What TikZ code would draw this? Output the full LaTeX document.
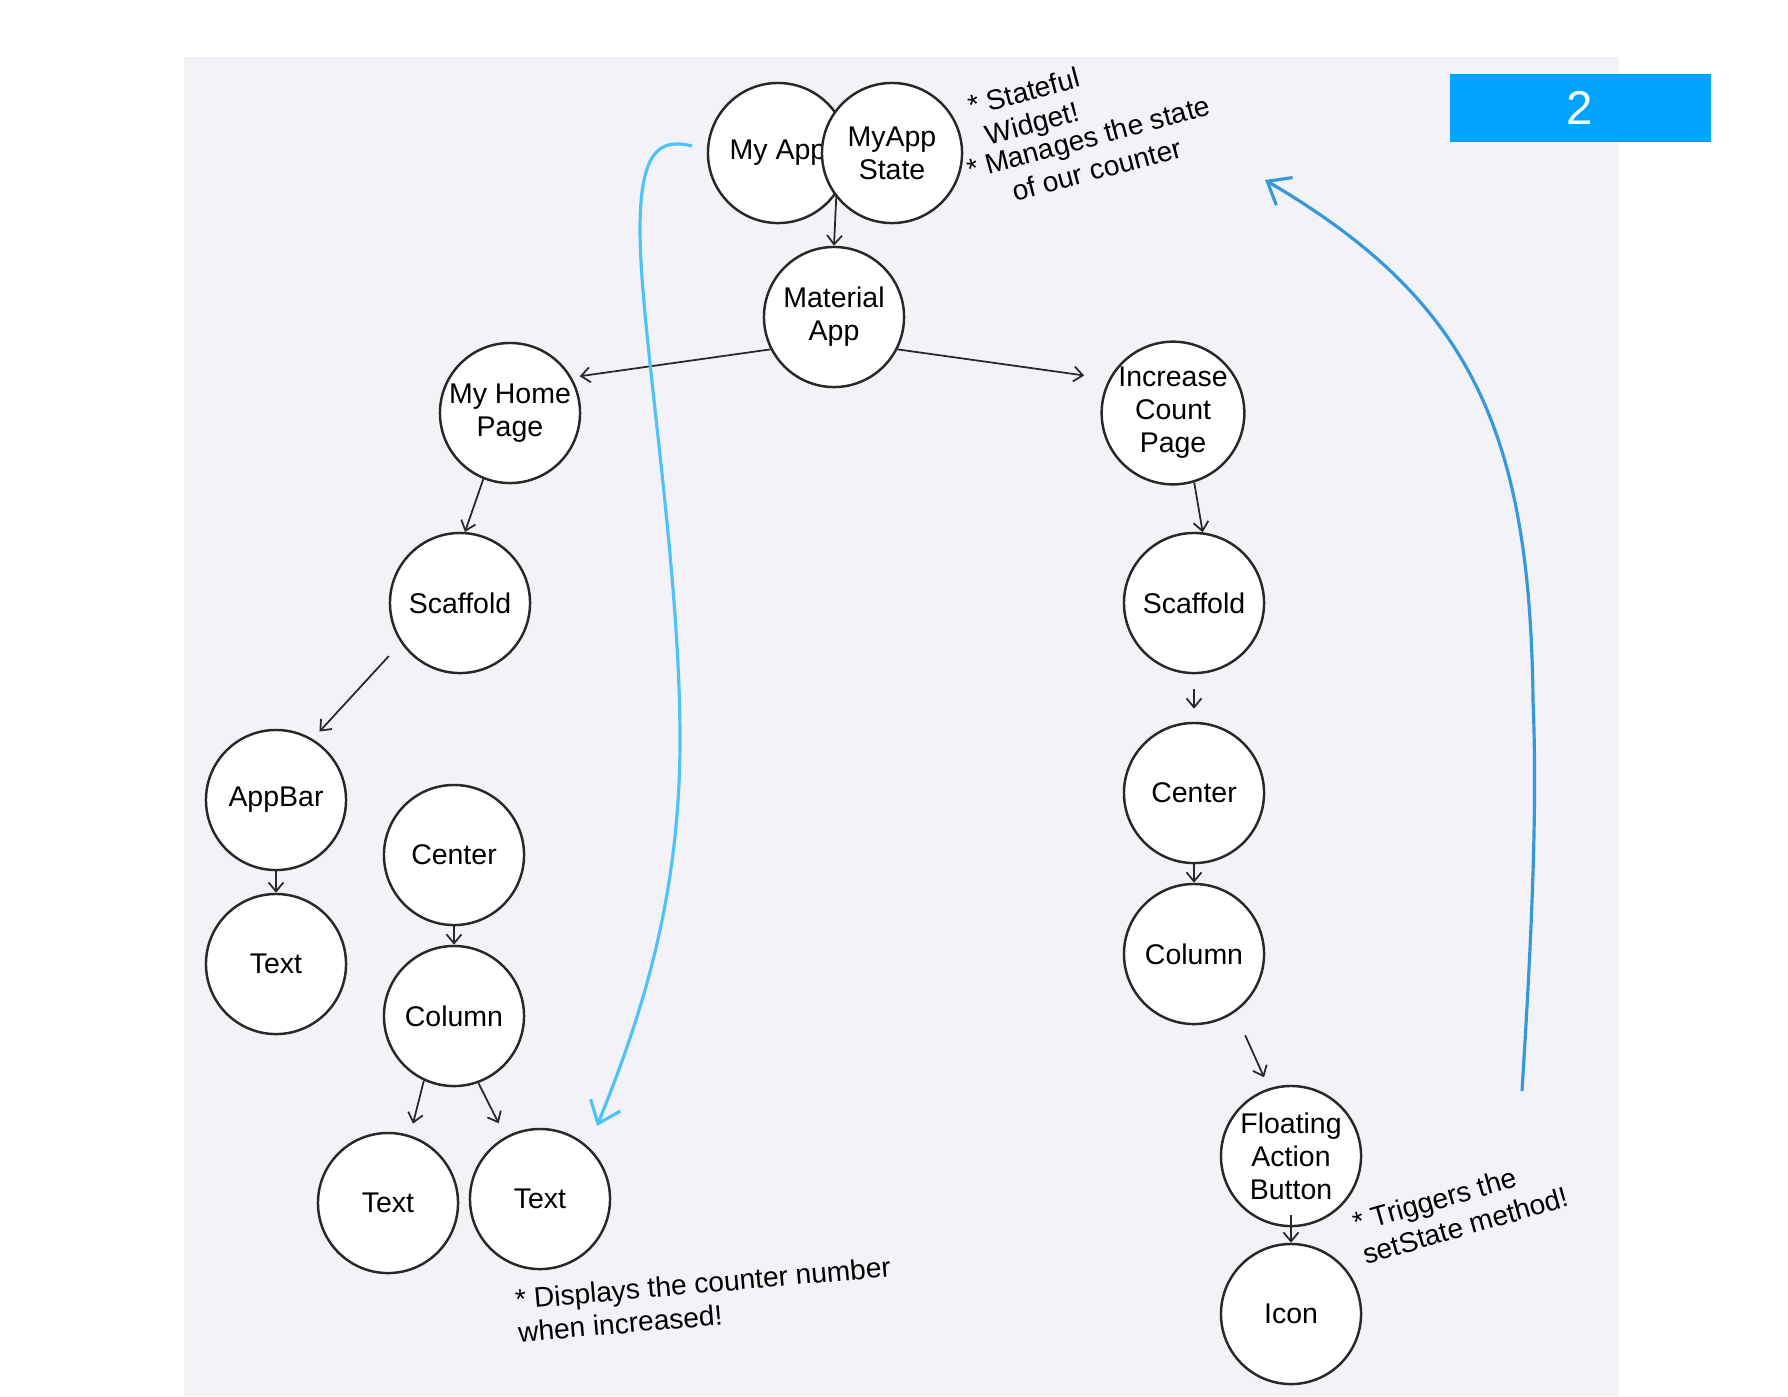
\documentclass[tikz,border=0pt]{standalone}
\usepackage{fontspec}
\setmainfont{Liberation Sans}
\usetikzlibrary{arrows.meta}

\definecolor{panel}{RGB}{243,242,247}
\definecolor{badge}{RGB}{0,163,255}
\definecolor{flowlight}{RGB}{79,195,247}
\definecolor{flowdark}{RGB}{52,152,219}
\definecolor{ink}{RGB}{40,40,40}

\tikzset{
  widget/.style={circle, draw=ink, fill=white, line width=0.7pt, minimum size=1.4cm,
    inner sep=0pt, align=center, font=\fontsize{8.1}{9.4}\selectfont},
  link/.style={draw=ink, line width=0.5pt, -{Straight Barb[length=0.9mm,width=1.5mm]}},
  note/.style={inner sep=0pt, anchor=west, font=\fontsize{8}{9.4}\selectfont},
  flow/.style={line width=0.9pt, -{Straight Barb[length=2mm,width=3.2mm]}}
}

\begin{document}
\begin{tikzpicture}[x=0.01cm, y=-0.01cm]
    \useasboundingbox (0,0) rectangle (1788,1396);
    \fill[panel] (184,57) rectangle (1619,1396);
    \fill[badge] (1450,74) rectangle (1711,142);
    \node[text=white, font=\fontsize{13.5}{16}\selectfont] (badge) at (1580,108) {2};

    % app root
    \node[widget] (myapp) at (778,153) {My App};
    \node[widget] (state) at (892,153) {MyApp\\State};
    \node[widget] (material) at (834,317) {Material\\App};

    % left branch
    \node[widget] (home) at (510,413) {My Home\\Page};
    \node[widget] (scafL) at (460,603) {Scaffold};
    \node[widget] (appbar) at (276,800) {AppBar};
    \node[widget] (textA) at (276,964) {Text};
    \node[widget] (centL) at (454,855) {Center};
    \node[widget] (colL) at (454,1016) {Column};
    \node[widget] (textB) at (388,1203) {Text};
    \node[widget] (textC) at (540,1199) {Text};

    % right branch
    \node[widget] (increase) at (1173,413) {Increase\\Count\\Page};
    \node[widget] (scafR) at (1194,603) {Scaffold};
    \node[widget] (centR) at (1194,793) {Center};
    \node[widget] (colR) at (1194,954) {Column};
    \node[widget] (fab) at (1291,1156) {Floating\\Action\\Button};
    \node[widget] (icon) at (1291,1314) {Icon};

    % notes
    \node[note, rotate=15, align=center] (statenote) at (973,125) {* Stateful\\Widget!};
    \node[note, rotate=15, align=center] (managenote) at (971,186) {* Manages the state\\of our counter};
    \node[note, rotate=5, align=left] (displaynote) at (516,1316) {* Displays the counter number\\when increased!};
    \node[note, rotate=16, align=left] (triggernote) at (1358,1239) {* Triggers the\\setState method!};

    \draw[link] (myapp.-35) -- (material.north);
    \draw[link, shorten >=0.08cm] (material.207) -- (home.30);
    \draw[link, shorten >=0.25cm] (material.-27) -- (increase.152);
    \draw[link] (home.248) -- (scafL.86);
    \draw[link] (increase.-73) -- (scafR.83);
    \draw[link, shorten <=0.18cm, shorten >=0.1cm] (scafL.214) -- (appbar.59);
    \draw[link, shorten <=0.15cm, shorten >=0.13cm] (scafR.south) -- (centR.north);
    \draw[link] (appbar.south) -- (textA.north);
    \draw[link] (centL.south) -- (colL.north);
    \draw[link] (centR.south) -- (colR.north);
    \draw[link, shorten >=0.12cm] (colL.245) -- (textB.72);
    \draw[link, shorten >=0.15cm] (colL.-70) -- (textC.119);
    \draw[link, shorten <=0.25cm, shorten >=0.12cm] (colR.-55) -- (fab.108);
    \draw[link] ([yshift=0.12cm]fab.south) -- (icon.north);

    % state flow
    \coordinate (pickup) at (692,146);
    \coordinate (display) at (597,1126);
    \coordinate (tap) at (1522,1091);
    \coordinate (rebuild) at (1265,180);
    \draw[flow, flowlight] (pickup) .. controls (660,138) and (640,150) .. (640,230)
        .. controls (640,330) and (680,560) .. (680,740)
        .. controls (680,900) and (640,1020) .. (display);
    \draw[flow, flowdark] (tap) .. controls (1530,960) and (1538,820) .. (1533,700)
        .. controls (1530,430) and (1470,300) .. (rebuild);
\end{tikzpicture}
\end{document}
